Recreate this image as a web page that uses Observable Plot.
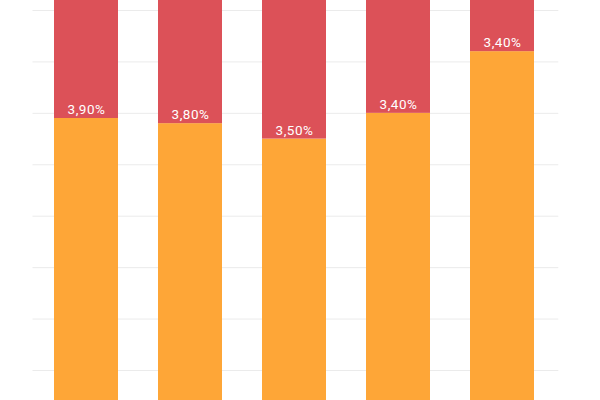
<!DOCTYPE html>
<html>
<head>
<meta charset="utf-8">
<script src="https://cdn.jsdelivr.net/npm/d3@7"></script>
<script src="https://cdn.jsdelivr.net/npm/@observablehq/plot@0.6"></script>
<style>
  html, body { margin: 0; padding: 0; background: #fff; }
  #chart { width: 600px; height: 400px; overflow: hidden; }
  #chart text { letter-spacing: 0.5px; }
</style>
</head>
<body>
<div id="chart"></div>
<script>
const categories = ["1", "2", "3", "4", "5"];
const orangeValues = [5.9, 5.8, 5.5, 6.0, 7.2];
const redValues = [3.9, 3.8, 3.5, 3.4, 3.4];
const gridTicks = [1, 2, 3, 4, 5, 6, 7, 8];
const seriesNames = ["base", "top"];
const seriesColors = ["#fea637", "#dc5158"];

const rows = [];
categories.forEach((c, i) => {
  rows.push({cat: c, series: "base", value: orangeValues[i]});
  rows.push({cat: c, series: "top", value: redValues[i]});
});
const labels = categories.map((c, i) => ({cat: c, y: orangeValues[i], v: redValues[i]}));
const fmt = v => v.toFixed(2).replace(".", ",") + "%";

const chart = Plot.plot({
  width: 600,
  height: 400,
  marginLeft: 32.5,
  marginRight: 41.7,
  marginTop: 0,
  marginBottom: 0,
  style: {fontFamily: "Roboto, sans-serif", background: "#fff"},
  x: {domain: categories, range: [52.3, 536.7], paddingInner: 0.382, paddingOuter: 0, axis: null},
  y: {domain: [0, 8], range: [421.43, 10], axis: null},
  color: {domain: seriesNames, range: seriesColors},
  marks: [
    Plot.ruleY(gridTicks, {stroke: "#ebebeb", strokeWidth: 1}),
    Plot.barY(rows, {x: "cat", y: "value", fill: "series", order: seriesNames, clip: true}),
    Plot.text(labels, {x: "cat", y: "y", text: d => fmt(d.v), dy: -8.5, fill: "#fff", fontSize: 13.5, fontWeight: "normal"})
  ]
});
document.getElementById("chart").appendChild(chart);
</script>
</body>
</html>
